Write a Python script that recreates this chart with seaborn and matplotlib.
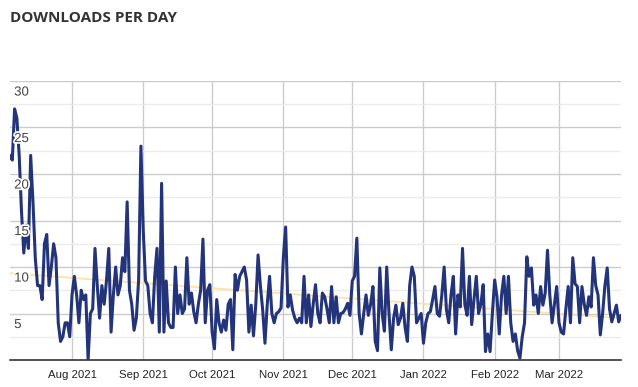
import numpy as np
import pandas as pd
import matplotlib
matplotlib.use("Agg")
import matplotlib.pyplot as plt
import matplotlib.dates as mdates
import matplotlib.patheffects as pe
import seaborn as sns

start_date = "2021-07-05"
downloads = [
    22, 21.5, 27, 26, 22, 16, 11.5, 14.5, 12, 22,
    17, 11, 8, 8, 6.5, 12.5, 13.5, 8, 10, 12.5,
    11, 4, 2, 2.5, 4, 4, 2.5, 7, 9, 7,
    4, 7.5, 6.5, 7, 0, 5, 5.5, 12, 8, 4.5,
    8, 6, 8.5, 12, 3, 7, 10, 7, 8, 11,
    9.5, 17, 7.5, 6, 3.2, 4.5, 8.6, 23, 14, 8.5,
    8, 5, 4, 9, 12, 3, 19, 3, 8.5, 4,
    3.5, 3.5, 10, 5, 7, 5, 5.5, 11, 6, 7.2,
    5.2, 4, 6, 7.5, 13, 4, 7.5, 8.1, 3, 1.2,
    6.5, 4, 3, 4.3, 3.2, 6, 6.5, 1.1, 9.2, 7.5,
    9, 9.5, 10, 8.6, 3, 5.9, 2.6, 6, 11.3, 8,
    5.4, 1.8, 6, 9, 5, 4, 5, 5.2, 5.6, 11,
    14.3, 5.7, 7, 5.4, 4.5, 4, 4.5, 4, 9, 4,
    7, 3.6, 6, 8.1, 5, 4, 7.2, 6.8, 5.5, 4,
    7.9, 4, 6.8, 4, 5, 5.1, 5.5, 6.1, 4.8, 8.5,
    9, 13.1, 5, 2.8, 5, 7, 4.8, 6, 7.9, 2,
    1, 9.9, 5, 3.1, 10, 5, 1.1, 4.5, 5.9, 3.8,
    4.5, 6.1, 3.5, 2, 8, 10, 9, 4, 4.5, 5,
    1.8, 4, 5, 5.2, 6.5, 7.9, 5, 4.7, 7, 10,
    5.4, 4, 7, 9, 2.8, 7, 5.7, 12, 6, 4.8,
    9, 3.8, 6.5, 9, 5, 6, 8.1, 0.9, 2.8, 0.9,
    5, 8.6, 6.8, 2.8, 7, 9, 5, 9, 4, 2,
    2.8, 1, 0.2, 2.5, 4, 11.1, 9, 9.9, 5.9, 7,
    5, 7.9, 5.9, 7.2, 11.8, 7, 4, 6, 7.9, 4,
    3, 2.8, 5.5, 7.9, 4, 11, 8.2, 7.9, 4, 7.9,
    6, 4.8, 6.8, 5.7, 11, 8, 7, 2.7, 5, 8,
    9.9, 5.5, 4.1, 5, 5.9, 4.1, 4.8,
]
month_ticks = ["2021-08-01", "2021-09-01", "2021-10-01", "2021-11-01",
               "2021-12-01", "2022-01-01", "2022-02-01", "2022-03-01"]
y_ticks = [5, 10, 15, 20, 25, 30]

dates = pd.date_range(start_date, periods=len(downloads), freq="D")
df = pd.DataFrame({"date": dates, "downloads": downloads})

# linear trend line
xnum = np.arange(len(downloads))
slope, intercept = np.polyfit(xnum, downloads, 1)
df["trend"] = intercept + slope * xnum

sns.set_style("white")
fig = plt.figure(figsize=(6.38, 3.87), dpi=100)
ax = fig.add_axes([10 / 638, 1 - 360 / 387, 611 / 638, 279 / 387])

sns.lineplot(data=df, x="date", y="trend", ax=ax, color="#fbe3a6", linewidth=1.3, zorder=2)
sns.lineplot(data=df, x="date", y="downloads", ax=ax, color="#23347a", linewidth=2.2, zorder=3)
ax.lines[-1].set_solid_joinstyle("round")

ax.set_xlim(dates[0], dates[-1])
ax.set_ylim(0, 30)

# grid
ax.set_yticks(y_ticks)
ax.set_yticks(np.arange(2.5, 30, 5), minor=True)
ax.set_xticks(pd.to_datetime(month_ticks))
ax.xaxis.set_major_formatter(mdates.DateFormatter("%b %Y"))
ax.grid(True, which="major", color="#cccccc", linewidth=1.0, zorder=0)
ax.grid(True, which="minor", axis="y", color="#ebebeb", linewidth=1.0, zorder=0)
ax.set_axisbelow(True)

for s in ["top", "right", "left"]:
    ax.spines[s].set_visible(False)
ax.spines["bottom"].set_color("#333333")
ax.spines["bottom"].set_linewidth(1.2)

ax.tick_params(axis="both", length=0)
ax.tick_params(axis="x", pad=7, labelsize=8.2, labelcolor="#222222")
ax.set_yticklabels([])
for t in y_ticks:
    ax.annotate(str(t), xy=(0, t), xycoords=("axes fraction", "data"),
                xytext=(3, -4), textcoords="offset points",
                ha="left", va="top", fontsize=9.5, color="#444444",
                family="Liberation Sans", zorder=6,
                path_effects=[pe.withStroke(linewidth=2.5, foreground="white")])
for lbl in ax.get_xticklabels():
    lbl.set_family("Liberation Sans")

ax.set_xlabel("")
ax.set_ylabel("")

fig.text(10 / 638, 1 - 11 / 387, "DOWNLOADS PER DAY", ha="left", va="top",
         fontsize=11, fontweight="bold", color="#333333", family="Open Sans")

fig.savefig("out.png", dpi=100)
